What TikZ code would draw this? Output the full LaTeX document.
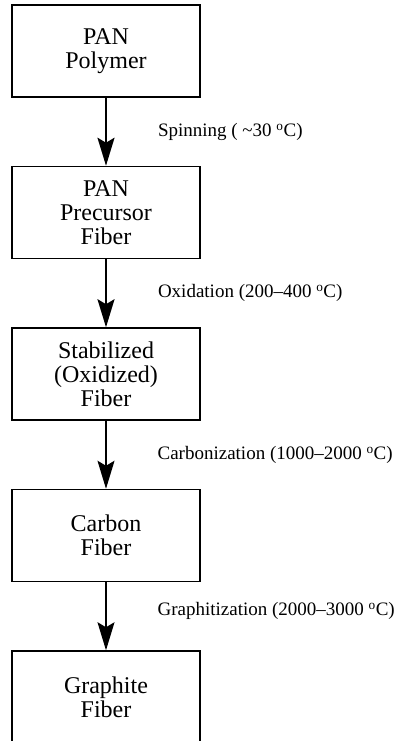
\documentclass[tikz,border=0pt]{standalone}
\usepackage{fontspec}
\setmainfont{Liberation Serif}
\usetikzlibrary{arrows.meta,positioning}
\newcommand{\degC}{\textsuperscript{o}C}

\begin{document}
\begin{tikzpicture}[node distance=68pt,
  box/.style={draw, line width=1.5pt, minimum width=188pt, minimum height=92pt, align=center, font=\fontsize{24}{24}\selectfont},
  flow/.style={-{Stealth[length=28pt,width=17pt,inset=5pt]}, line width=2pt},
  lbl/.style={right, inner sep=0pt, xshift=51pt, font=\fontsize{19}{21}\selectfont}]
\useasboundingbox (0,0) rectangle (402pt,-741pt);
\node[box] (poly) at (106pt,-51pt) {PAN\\Polymer};
\node[box,below=of poly] (prec) {PAN\\Precursor\\Fiber};
\node[box,below=of prec] (stab) {Stabilized\\(Oxidized)\\Fiber};
\node[box,below=of stab] (carb) {Carbon\\Fiber};
\node[box,below=of carb] (graph) {Graphite\\Fiber};
\draw[flow](poly)--node[lbl]{Spinning ( \textasciitilde30 \degC)}(prec);
\draw[flow](prec)--node[lbl]{Oxidation (200--400 \degC)}(stab);
\draw[flow,line width=1.2pt](stab)--node[lbl]{Carbonization (1000--2000 \degC)}(carb);
\draw[flow,line width=1.2pt](carb)--node[lbl,yshift=5pt]{Graphitization (2000--3000 \degC)}(graph);
\end{tikzpicture}
\end{document}
